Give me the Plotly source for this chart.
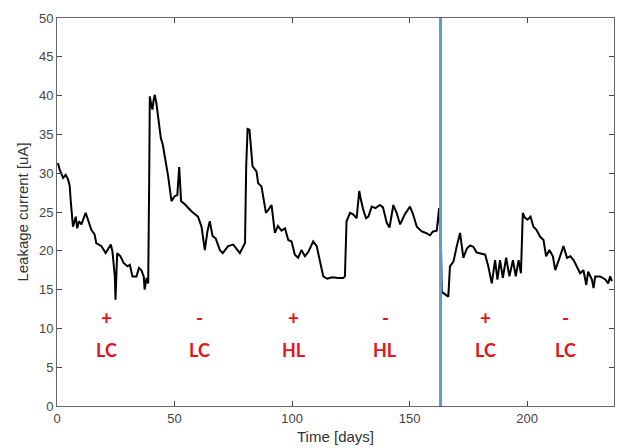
import plotly.graph_objects as go

# ---- data ----
days = [0.4, 1.1, 2.6, 3.7, 4.7, 5.4, 5.8, 6.6, 6.8, 8.0,
        8.6, 9.4, 10.4, 12.2, 13.0, 14.6, 16.0, 16.7, 18.9, 20.7,
        21.7, 22.9, 23.6, 24.3, 24.6, 24.9, 25.2, 25.6, 27.0, 28.4,
        30.0, 31.0, 32.1, 33.8, 34.9, 35.9, 36.9, 37.3, 38.1, 38.8,
        39.2, 39.5, 40.0, 40.6, 41.1, 41.6, 42.3, 43.0, 44.2, 45.0,
        46.0, 47.3, 48.7, 50.0, 51.2, 52.0, 52.8, 54.4, 57.2, 60.0,
        61.5, 62.9, 64.0, 65.0, 66.2, 67.5, 69.3, 70.5, 72.8, 75.0,
        77.8, 80.0, 80.5, 81.1, 81.9, 83.2, 84.9, 85.6, 87.0, 88.9,
        90.0, 91.3, 92.7, 94.0, 95.5, 97.0, 98.4, 99.8, 101.2, 102.6,
        104.0, 105.5, 107.0, 109.0, 110.5, 111.9, 113.3, 115.0, 117.0, 119.7,
        121.8, 122.5, 123.2, 124.7, 126.0, 127.5, 128.6, 129.3, 130.3, 131.5,
        132.5, 133.9, 135.5, 137.4, 138.7, 140.3, 141.5, 143.1, 144.5, 146.0,
        148.0, 150.2, 151.5, 153.1, 155.2, 157.0, 158.7, 160.0, 161.6, 162.6,
        163.4, 163.7, 164.5, 166.5, 167.2, 168.7, 170.1, 171.5, 172.9, 174.4,
        175.8, 177.2, 178.5, 180.0, 182.2, 183.5, 185.0, 186.4, 187.4, 188.5,
        189.7, 191.1, 192.5, 194.0, 195.2, 196.4, 197.4, 198.2, 199.0, 200.2,
        201.5, 202.7, 204.0, 205.6, 207.0, 208.1, 209.5, 211.0, 212.0, 213.5,
        215.5, 217.0, 218.4, 219.8, 221.2, 222.6, 224.0, 225.2, 226.0, 227.6,
        228.3, 229.0, 231.1, 233.3, 234.5, 235.4, 236.1]

current = [31.3, 30.5, 29.4, 29.8, 29.2, 28.4, 26.6, 24.4, 23.1, 24.4,
           22.9, 23.8, 23.4, 24.9, 24.2, 22.7, 22.1, 21.0, 20.6, 19.7,
           20.2, 20.8, 19.9, 18.0, 16.7, 13.7, 16.7, 19.7, 19.3, 18.4,
           18.0, 18.2, 16.7, 16.7, 17.8, 17.5, 16.7, 15.0, 16.5, 15.8,
           28.3, 39.9, 39.0, 38.2, 39.4, 40.1, 39.0, 37.3, 34.5, 33.7,
           32.0, 29.6, 26.4, 27.0, 27.2, 30.8, 26.4, 26.0, 25.1, 24.4,
           23.1, 20.1, 22.5, 23.8, 21.9, 21.6, 20.1, 19.7, 20.6, 20.8,
           19.7, 21.0, 30.9, 35.7, 35.6, 30.9, 30.2, 28.7, 28.3, 24.9,
           25.3, 25.9, 22.3, 23.2, 22.6, 22.9, 21.4, 21.2, 19.5, 19.1,
           20.1, 19.3, 19.9, 21.2, 20.6, 18.8, 16.7, 16.4, 16.6, 16.5,
           16.5, 16.7, 23.8, 24.9, 24.7, 24.2, 27.7, 26.6, 25.3, 24.2,
           24.4, 25.7, 25.5, 25.9, 25.6, 23.6, 23.0, 25.9, 24.9, 23.4,
           24.7, 25.7, 24.7, 23.1, 22.5, 22.3, 22.0, 22.5, 22.6, 25.5,
           20.3, 14.7, 14.5, 14.1, 18.0, 18.6, 20.6, 22.3, 19.1, 20.3,
           20.7, 20.5, 19.8, 19.7, 19.5, 18.0, 15.8, 18.8, 16.3, 18.8,
           16.5, 19.1, 16.7, 18.8, 16.7, 18.8, 17.1, 24.9, 24.3, 24.0,
           24.4, 23.1, 22.7, 21.8, 21.4, 19.3, 20.1, 19.3, 17.5, 18.8,
           20.6, 19.1, 19.3, 18.8, 18.0, 17.1, 17.5, 15.6, 17.3, 16.3,
           15.2, 16.7, 16.7, 16.3, 15.8, 16.7, 16.1]

marker_day = 163.2

label_days = [20.9, 60.5, 100.8, 139.6, 182.2, 216.4]
label_signs = ["+", "-", "+", "-", "+", "-"]
label_names = ["LC", "LC", "HL", "HL", "LC", "LC"]
sign_level = 11.4
name_level = 7.2

x_ticks = [0, 50, 100, 150, 200]
y_ticks = [0, 5, 10, 15, 20, 25, 30, 35, 40, 45, 50]

# ---- figure ----
fig = go.Figure()
fig.add_trace(go.Scatter(x=days, y=current, mode="lines",
                         line=dict(color="black", width=2),
                         showlegend=False, hoverinfo="skip"))

fig.add_shape(type="line", x0=marker_day, x1=marker_day, y0=0, y1=50,
              xref="x", yref="y", line=dict(color="#5b9bd5", width=3))

red = "#e3121b"
for d, s, n in zip(label_days, label_signs, label_names):
    fig.add_annotation(x=d, y=sign_level, text="<b>%s</b>" % s, showarrow=False,
                       font=dict(family="Lato", size=19, color=red))
    fig.add_annotation(x=d, y=name_level, text="<b>%s</b>" % n, showarrow=False,
                       font=dict(family="Lato", size=18, color=red))

axis_common = dict(showline=True, linecolor="#666666", linewidth=1,
                   mirror="ticks", ticks="inside", ticklen=5, tickcolor="#444444",
                   showgrid=False, zeroline=False,
                   tickfont=dict(family="Liberation Sans", size=13, color="#444444"))

fig.update_layout(
    width=621, height=448,
    margin=dict(l=57, r=7, t=18, b=42),
    paper_bgcolor="white", plot_bgcolor="white",
    xaxis=dict(range=[0, 237], tickvals=x_ticks,
               title=dict(text="Time [days]", standoff=6,
                          font=dict(family="Liberation Sans", size=15, color="#333333")),
               **axis_common),
    yaxis=dict(range=[0, 50], tickvals=y_ticks,
               title=dict(text="Leakage current [uA]", standoff=6,
                          font=dict(family="Liberation Sans", size=15, color="#333333")),
               **axis_common),
)

fig.write_html("out.html")
